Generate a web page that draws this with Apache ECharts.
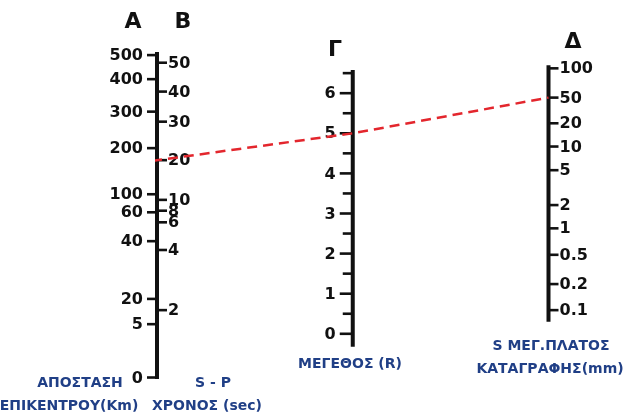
<!DOCTYPE html>
<html>
<head>
<meta charset="utf-8">
<script src="https://cdn.jsdelivr.net/npm/echarts@6/dist/echarts.min.js"></script>
<style>
  html, body { margin: 0; padding: 0; background: #fff; }
  #nomogram { width: 629px; height: 414px; }
</style>
</head>
<body>
<div id="nomogram"></div>
<script>
// shared vertical scale = magnitude units of the middle (Γ) scale
// A: epicentral distance (km) and where each mark sits on the scale
var distKm  = ['500', '400', '300', '200', '100', '60', '40', '20', '5', '0'];
var distPos = [6.95, 6.35, 5.54, 4.63, 3.48, 3.03, 2.31, 0.87, 0.24, -1.09];
// B: S-P time (sec)
var spSec = ['50', '40', '30', '20', '10', '8', '6', '4', '2'];
var spPos = [6.76, 6.04, 5.29, 4.33, 3.34, 3.07, 2.78, 2.09, 0.59];
// Γ: magnitude
var magMajor = [0, 1, 2, 3, 4, 5, 6];
var magMinor = [0.5, 1.5, 2.5, 3.5, 4.5, 5.5, 6.5];
// Δ: S amplitude (mm)
var ampMm  = ['100', '50', '20', '10', '5', '2', '1', '0.5', '0.2', '0.1'];
var ampPos = [6.62, 5.89, 5.25, 4.67, 4.08, 3.21, 2.63, 1.97, 1.24, 0.59];
// extent of the three scale bars
var barTop    = [7.03, 6.58, 6.70];
var barBottom = [-1.13, -0.32, 0.30];
// the worked example (red line): S-P 20 sec, amplitude 50 mm -> M 5
var exampleSp = '20';
var exampleMag = 5;
var exampleAmp = '50';

var tickFont = 'bold 16px "DejaVu Sans"';

var nomo = {
	/**
	 * build the tick list for one scale
	 */
	ticks: function(col, positions, labels, side, len) {
		var out = [];
		for (var i = 0; i < positions.length; i++) {
			out.push({ value: [col, positions[i]], label: labels ? labels[i] : '', side: side, len: len });
		}
		return out;
	},
	tickSeries: function(items) {
		return {
			type: 'custom',
			coordinateSystem: 'cartesian2d',
			clip: false,
			z: 3,
			data: items.map(function(t) { return t.value; }),
			renderItem: function(params, api) {
				var t = items[params.dataIndex];
				var p = api.coord([api.value(0), api.value(1)]);
				var x2 = p[0] + t.side * t.len;
				var kids = [{
					type: 'line',
					shape: { x1: p[0], y1: p[1], x2: x2, y2: p[1] },
					style: { stroke: '#111', lineWidth: 2.6 }
				}];
				if (t.label) {
					kids.push({
						type: 'text',
						style: {
							text: t.label,
							x: x2 + t.side * (t.side < 0 ? 4 : 1),
							y: p[1] + 1,
							align: t.side < 0 ? 'right' : 'left',
							verticalAlign: 'middle',
							font: tickFont,
							fill: '#111'
						}
					});
				}
				return { type: 'group', children: kids };
			}
		};
	},
	barSeries: function(col) {
		return {
			type: 'line',
			symbol: 'none',
			silent: true,
			z: 2,
			data: [[col, barBottom[col]], [col, barTop[col]]],
			lineStyle: { color: '#111', width: 4, cap: 'butt' }
		};
	},
	caption: function(text, x, y, size, color) {
		return {
			type: 'text',
			x: x,
			y: y,
			style: {
				text: text,
				align: 'center',
				verticalAlign: 'middle',
				font: 'bold ' + size + 'px "DejaVu Sans"',
				fill: color
			}
		};
	},
	init: function() {
		var chart = echarts.init(document.getElementById('nomogram'));
		var blue = '#203f86';

		var redLine = [
			[-0.025, spPos[spSec.indexOf(exampleSp)] - 0.02],
			[1, exampleMag],
			[2, ampPos[ampMm.indexOf(exampleAmp)]]
		];

		var option = {
			animation: false,
			backgroundColor: '#fff',
			grid: { left: 157, right: 80.5, top: 13, height: 401 },
			xAxis: { type: 'value', min: 0, max: 2, show: false },
			yAxis: { type: 'value', min: -2, max: 8, show: false },
			graphic: [
				nomo.caption('A', 133, 22, 22, '#111'),
				nomo.caption('B', 183, 22, 22, '#111'),
				nomo.caption('Γ', 335, 50, 22, '#111'),
				nomo.caption('Δ', 573, 42, 22, '#111'),
				nomo.caption('ΑΠΟΣΤΑΣΗ', 80, 383, 14, blue),
				nomo.caption('ΕΠΙΚΕΝΤΡΟΥ(Km)', 69, 406, 14, blue),
				nomo.caption('S - P', 213, 383, 14, blue),
				nomo.caption('ΧΡΟΝΟΣ (sec)', 207, 406, 14, blue),
				nomo.caption('ΜΕΓΕΘΟΣ (R)', 350, 364, 14, blue),
				nomo.caption('S ΜΕΓ.ΠΛΑΤΟΣ', 551, 346, 14, blue),
				nomo.caption('ΚΑΤΑΓΡΑΦΗΣ(mm)', 550, 369, 14, blue)
			],
			series: [
				nomo.barSeries(0),
				nomo.barSeries(1),
				nomo.barSeries(2),
				nomo.tickSeries(nomo.ticks(0, distPos, distKm, -1, 10)),
				nomo.tickSeries(nomo.ticks(0, spPos, spSec, 1, 10)),
				nomo.tickSeries(nomo.ticks(1, magMajor, magMajor.map(String), -1, 13)),
				nomo.tickSeries(nomo.ticks(1, magMinor, null, -1, 10)),
				nomo.tickSeries(nomo.ticks(2, ampPos, ampMm, 1, 10)),
				{
					type: 'line',
					symbol: 'none',
					silent: true,
					z: 5,
					clip: false,
					data: redLine,
					lineStyle: { color: '#e3262d', width: 2.5, type: [10, 6] }
				}
			]
		};
		chart.setOption(option);
	}
};

nomo.init();
</script>
</body>
</html>
